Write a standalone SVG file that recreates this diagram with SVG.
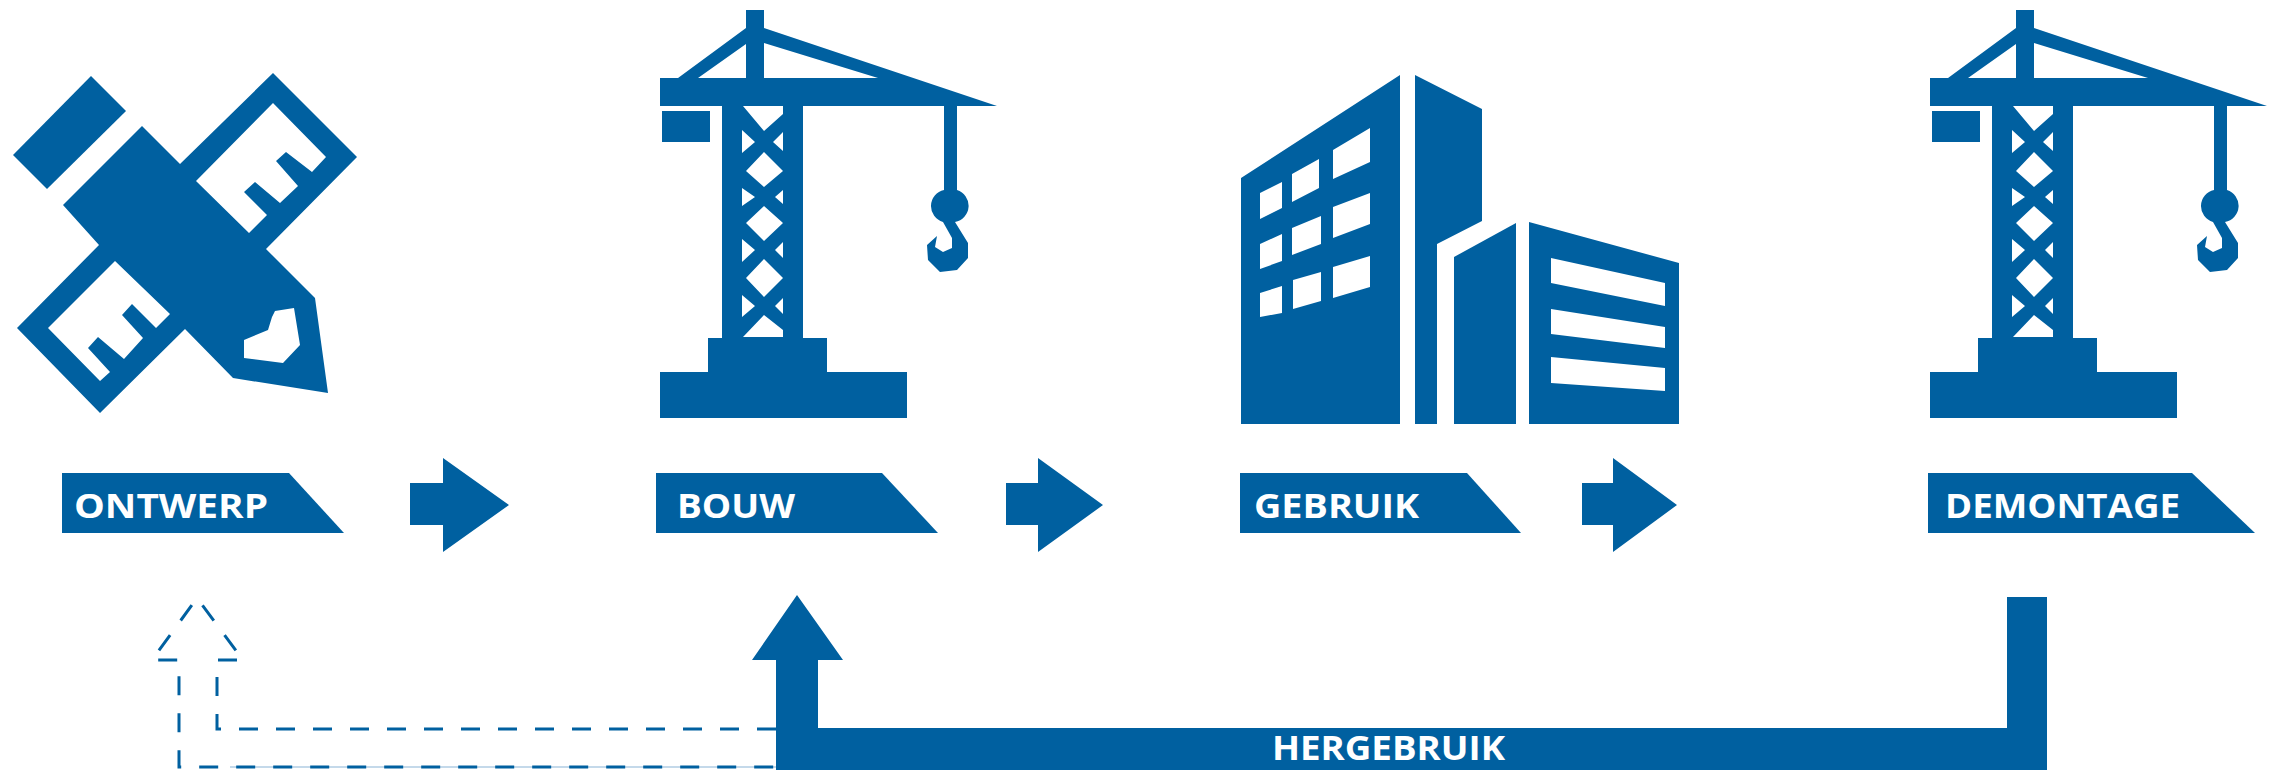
<svg xmlns="http://www.w3.org/2000/svg" xmlns:xlink="http://www.w3.org/1999/xlink" width="2280" height="773" viewBox="0 0 2280 773">
<style>
.b{fill:#0060a0;fill-rule:evenodd}
.t{fill:#fff;font-family:"Open Sans","Liberation Sans",sans-serif;font-weight:700;font-size:34px}
.d{fill:none;stroke:#0060a0;stroke-width:3;stroke-dasharray:19 18}
</style>
<defs>
<g id="crane">
<path class="b" d="M746 10H764V28L997 106H957V190A16.500 16.500 0 0 1 955 222L968 243V258L957 270L940 272L928 260L927 245L937 236L935 247L943 252L952 248L952 238L943 222A16.500 16.500 0 0 1 944 190V106H803V338H827V372H907V418H660V372H708V338H722V106H660V78H678L746 28ZM746 44L698 78H746ZM764 43V78H878ZM743 106L764 131L783 114V106ZM742 130L755 142L742 153ZM783 132L773 142L783 151ZM764 152L783 171L764 187L746 171ZM742 188L755 197L742 206ZM783 190L775 197L783 204ZM764 206L783 223L764 241L746 223ZM742 239L755 250L742 262ZM783 242L775 250L783 258ZM764 259L783 278L764 297L746 278ZM742 295L755 306L742 317ZM783 298L775 306L783 314ZM764 315L783 330V337H743Z"/>
<rect class="b" x="662" y="111" width="48" height="31"/>
</g>
</defs>
<g id="node-ontwerp">
<path class="b" d="M91 76L126 111L47 189L13 155Z"/>
<path class="b" d="M142 126L180 164L273 73L357 157L266 249L315 298L328 393L233 378L185 329L100 413L17 328L99 245L63 205ZM273 103L326 157L312 172L286 152L276 161L298 186L280 203L255 182L244 192L267 215L249 233L196 181ZM115 261L170 314L156 328L132 304L122 315L143 338L124 359L98 337L88 348L110 372L100 381L48 328ZM275 311L294 308L300 345L283 363L244 358V340L268 330L272 317Z"/>
<path class="b" d="M62 473H289L344 533H62Z"/>
<text class="t" x="74" y="518" textLength="194" lengthAdjust="spacingAndGlyphs">ONTWERP</text>
</g>
<g id="node-bouw">
<use xlink:href="#crane"/>
<path class="b" d="M656 473H882L938 533H656Z"/>
<text class="t" x="677" y="518" textLength="118" lengthAdjust="spacingAndGlyphs">BOUW</text>
</g>
<g id="node-gebruik">
<path class="b" d="M1241 178L1400 75V424H1241ZM1260 193L1282 182V208L1260 219ZM1292 174L1319 159V188L1292 202ZM1333 150L1370 128V162L1333 179ZM1260 244L1282 234V261L1260 269ZM1292 228L1321 216V244L1292 255ZM1333 207L1370 193V224L1333 238ZM1260 293L1282 286V313L1260 317ZM1293 280L1321 272V301L1293 309ZM1333 267L1370 256V287L1333 298Z"/>
<path class="b" d="M1415 75L1482 109V221L1437 244V424H1415Z"/>
<path class="b" d="M1454 257L1516 223V424H1454Z"/>
<path class="b" d="M1529 222L1679 263V424H1529ZM1551 258L1665 283V306L1551 283ZM1551 309L1665 327V348L1551 334ZM1551 357L1665 368V391L1551 383Z"/>
<path class="b" d="M1240 473H1467L1521 533H1240Z"/>
<text class="t" x="1254" y="518" textLength="165" lengthAdjust="spacingAndGlyphs">GEBRUIK</text>
</g>
<g id="node-demontage">
<use xlink:href="#crane" x="1270"/>
<path class="b" d="M1928 473H2192L2255 533H1928Z"/>
<text class="t" x="1945" y="518" textLength="235" lengthAdjust="spacingAndGlyphs">DEMONTAGE</text>
</g>
<g id="connectors">
<path class="b" d="M410 483H443V458L509 505L443 552V525H410Z"/>
<path class="b" d="M1006 483H1038V458L1103 505L1038 552V525H1006Z"/>
<path class="b" d="M1582 483H1613V458L1677 505L1613 552V525H1582Z"/>
<path d="M230 767H776" fill="none" stroke="#c4d9ea" stroke-width="2"/>
<path class="d" d="M776 729H217V660H243L197 598L152 660H179V767H776"/>
<path class="b" d="M2047 597V770H776V660H752L797 595L843 660H818V728H2007V597Z"/>
<text class="t" x="1272" y="760" textLength="233" lengthAdjust="spacingAndGlyphs">HERGEBRUIK</text>
</g>
</svg>
